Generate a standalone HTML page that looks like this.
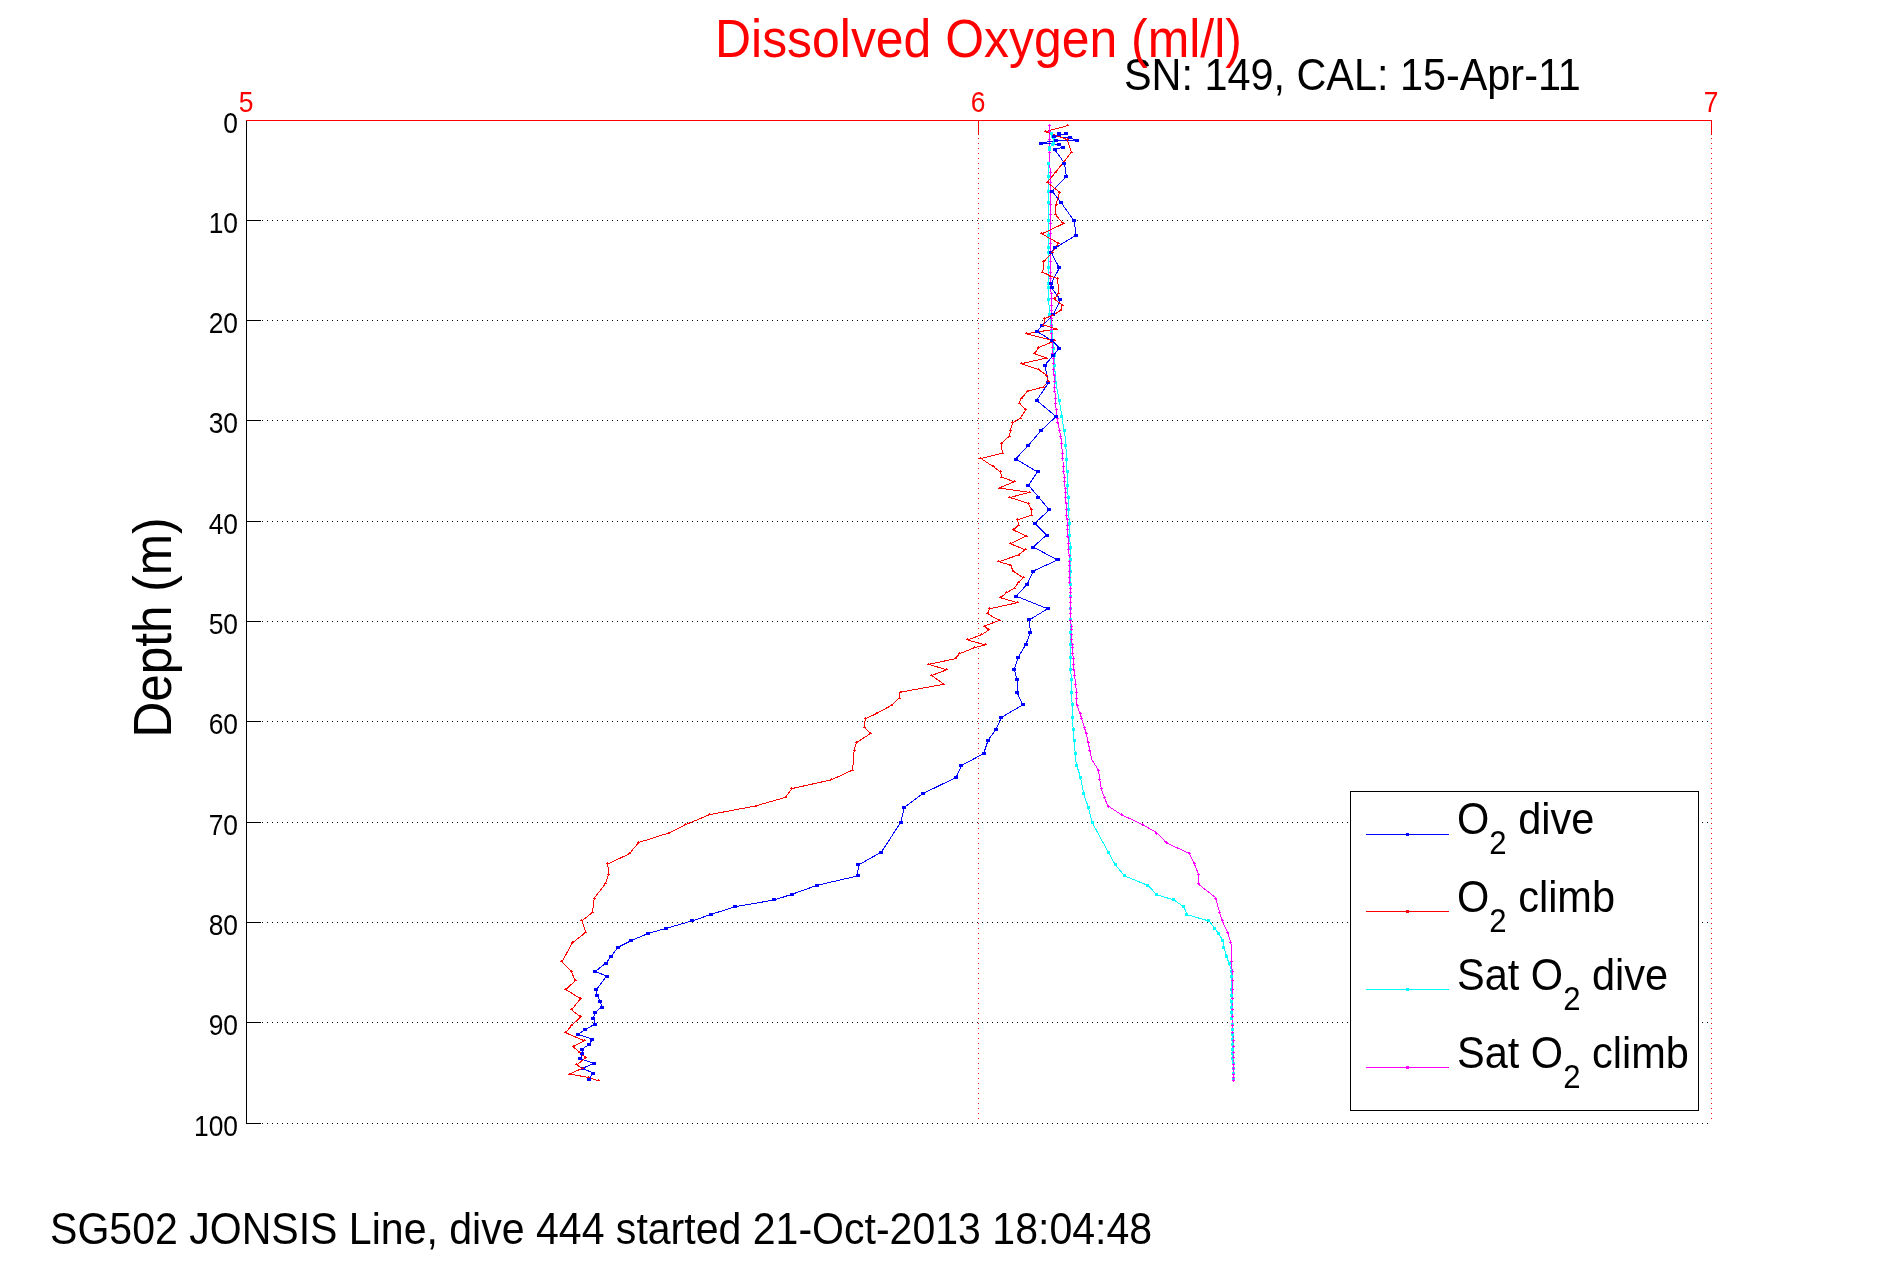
<!DOCTYPE html>
<html><head><meta charset="utf-8"><style>
html,body{margin:0;padding:0;background:#fff;}
body{width:1891px;height:1262px;overflow:hidden;position:relative;}
svg{position:absolute;left:0;top:0;will-change:transform;}
text{font-family:"Liberation Sans",sans-serif;}
</style></head><body>
<svg width="1891" height="1262" viewBox="0 0 1891 1262">
<rect width="1891" height="1262" fill="#fff"/>
<g shape-rendering="crispEdges">
<path d="M262 220.5H1711M262 320.5H1711M262 420.5H1711M262 521.5H1711M262 621.5H1711M262 721.5H1711M262 822.5H1711M262 922.5H1711M262 1022.5H1711M262 1123.5H1711" stroke="#000" stroke-width="1" stroke-dasharray="1 4" fill="none"/>
<path d="M978.5 138V1123M1711.5 138V1123" stroke="#f00" stroke-width="1" stroke-dasharray="1 4" fill="none"/>
<path d="M246 120.5H261M246 220.5H261M246 320.5H261M246 420.5H261M246 521.5H261M246 621.5H261M246 721.5H261M246 822.5H261M246 922.5H261M246 1022.5H261M246 1123.5H261" stroke="#000" stroke-width="1" fill="none"/>
<path d="M246.5 120V1124" stroke="#000" stroke-width="1" fill="none"/>
<path d="M246 120.5H1712M978.5 120V135M1711.5 120V135" stroke="#f00" stroke-width="1" fill="none"/>
</g>
<g font-size="29" fill="#000"><text x="0" y="0" transform="translate(238,133) scale(0.91,1)" text-anchor="end">0</text><text x="0" y="0" transform="translate(238,233) scale(0.91,1)" text-anchor="end">10</text><text x="0" y="0" transform="translate(238,333) scale(0.91,1)" text-anchor="end">20</text><text x="0" y="0" transform="translate(238,433) scale(0.91,1)" text-anchor="end">30</text><text x="0" y="0" transform="translate(238,534) scale(0.91,1)" text-anchor="end">40</text><text x="0" y="0" transform="translate(238,634) scale(0.91,1)" text-anchor="end">50</text><text x="0" y="0" transform="translate(238,734) scale(0.91,1)" text-anchor="end">60</text><text x="0" y="0" transform="translate(238,835) scale(0.91,1)" text-anchor="end">70</text><text x="0" y="0" transform="translate(238,935) scale(0.91,1)" text-anchor="end">80</text><text x="0" y="0" transform="translate(238,1035) scale(0.91,1)" text-anchor="end">90</text><text x="0" y="0" transform="translate(238,1136) scale(0.91,1)" text-anchor="end">100</text></g>
<g font-size="29" fill="#f00">
<text transform="translate(246,112) scale(0.91,1)" text-anchor="middle">5</text>
<text transform="translate(978,112) scale(0.91,1)" text-anchor="middle">6</text>
<text transform="translate(1711,112) scale(0.91,1)" text-anchor="middle">7</text>
</g>
<g fill="none" stroke-width="1" shape-rendering="crispEdges">
<polyline points="1051.0,133.0 1053.0,138.0 1055.0,142.0 1050.0,147.0 1048.5,170.0 1048.5,300.0 1050.5,320.0 1053.7,348.5 1055.6,381.8 1059.4,400.8 1065.6,440.0 1067.5,482.8 1070.8,560.0 1070.4,660.0 1071.7,690.0 1072.5,719.6 1073.9,738.9 1076.2,764.0 1080.6,777.4 1083.6,793.6 1088.2,807.0 1092.0,822.2 1108.5,852.6 1115.5,865.3 1125.0,876.1 1148.5,885.6 1156.1,894.4 1174.4,900.2 1184.0,907.1 1187.1,914.7 1209.3,921.1 1214.4,928.0 1218.8,933.7 1222.6,940.1 1223.9,947.1 1226.3,955.5 1231.6,970.9 1231.0,999.4 1232.2,1023.2 1233.4,1081.5" stroke="#0ff"/>
<polyline points="1049.6,124.0 1050.4,210.0 1051.3,330.0 1052.7,348.5 1054.6,386.6 1056.5,415.1 1061.3,440.0 1065.1,487.6 1069.4,560.0 1070.9,621.0 1071.5,635.5 1074.0,670.0 1076.2,690.0 1076.9,704.8 1080.6,715.2 1086.5,734.4 1091.7,759.6 1098.4,770.0 1101.3,789.2 1105.4,800.0 1107.9,805.7 1121.2,814.6 1142.8,824.7 1156.1,832.3 1166.8,843.1 1189.0,853.2 1194.7,864.7 1198.5,874.2 1198.5,884.3 1215.6,897.6 1219.5,912.2 1222.6,921.7 1227.7,932.5 1231.0,943.6 1231.6,962.6 1232.2,972.1 1232.2,1023.2 1233.4,1038.7 1233.4,1081.5" stroke="#f0f"/>
<polyline points="1059.2,134.0 1065.6,134.0 1054.5,136.4 1070.3,138.0 1077.0,140.4 1056.0,140.4 1041.0,143.1 1059.2,144.7 1062.8,147.1 1054.9,149.9 1064.4,163.0 1066.4,176.8 1052.1,191.1 1060.8,202.2 1074.2,220.9 1076.1,235.2 1055.1,248.0 1050.9,252.3 1059.4,268.0 1051.3,283.2 1051.8,288.0 1060.4,299.9 1053.2,314.6 1042.3,325.7 1037.0,331.4 1052.3,340.9 1059.4,348.1 1053.2,355.7 1044.7,365.2 1048.5,382.8 1036.6,400.4 1056.1,416.5 1041.3,430.3 1028.5,445.2 1015.6,459.0 1037.5,471.9 1028.5,485.2 1038.5,497.1 1049.4,509.9 1034.7,523.2 1046.6,535.1 1033.2,547.0 1057.5,560.0 1033.2,571.1 1027.1,584.4 1016.0,596.1 1047.6,608.8 1029.3,619.9 1030.4,632.1 1026.0,644.3 1018.2,657.1 1014.3,669.3 1017.1,679.8 1017.1,692.6 1022.9,704.8 1001.4,717.4 996.2,729.2 988.1,740.3 983.6,753.7 961.4,765.5 956.2,777.4 922.9,793.6 904.5,807.1 900.6,822.5 881.4,852.1 858.5,864.9 857.5,876.0 817.2,885.3 791.8,894.3 774.2,900.0 735.1,906.7 711.3,914.3 692.3,920.9 665.6,928.5 648.5,933.3 631.4,940.5 618.1,947.2 611.4,956.1 605.7,963.4 595.2,971.4 606.6,976.1 596.2,990.0 597.3,995.9 600.4,1001.1 601.6,1007.0 595.3,1012.2 593.3,1018.1 595.3,1024.1 585.4,1029.2 578.3,1034.4 592.5,1039.1 589.4,1044.3 582.2,1049.0 582.2,1053.8 580.2,1058.9 593.7,1063.3 582.6,1068.4 593.3,1073.2 588.6,1079.5" stroke="#00f"/>
<polyline points="1067.6,125.7 1045.4,131.6 1067.2,139.6 1071.5,152.2 1055.7,172.1 1047.2,182.4 1059.6,192.3 1056.1,204.5 1055.3,214.4 1063.2,223.8 1041.8,233.8 1058.5,243.3 1052.3,252.3 1043.7,261.8 1042.8,272.3 1050.9,276.1 1057.5,278.5 1058.9,293.2 1054.2,298.9 1062.3,305.1 1060.8,310.3 1052.3,315.6 1044.7,318.4 1043.7,325.1 1056.1,329.0 1026.1,333.8 1054.6,340.9 1038.5,347.6 1034.7,353.8 1046.6,358.0 1021.4,363.7 1038.5,369.5 1046.6,375.2 1048.5,381.8 1043.2,387.0 1027.5,391.3 1021.4,398.5 1019.0,403.2 1025.6,409.9 1020.4,418.0 1012.8,422.7 1010.4,430.3 1009.5,436.0 1001.4,443.3 1002.3,453.3 980.9,458.5 993.3,466.6 1000.4,471.9 1001.9,477.1 1014.2,481.8 999.0,488.0 1029.4,492.3 1009.9,497.5 1028.0,503.2 1031.3,509.4 1031.8,515.1 1017.6,519.9 1018.5,525.1 1013.3,529.9 1026.1,536.1 1010.4,543.7 1025.2,549.8 1018.0,555.1 998.8,561.7 1010.4,565.0 1013.2,571.1 1023.2,577.8 1018.8,582.2 1014.3,588.3 1006.6,592.7 1000.4,597.7 1017.6,602.7 989.4,608.8 987.7,613.8 999.3,620.5 984.4,626.0 988.8,629.9 981.6,634.9 967.2,639.9 985.5,644.9 974.4,647.7 959.4,653.8 955.0,658.8 928.9,664.3 946.6,669.9 931.7,675.4 943.9,684.3 900.0,692.2 899.2,698.1 891.1,705.5 876.3,713.7 865.2,718.9 864.4,727.0 870.4,733.7 856.3,742.6 854.1,750.7 852.6,770.0 831.5,779.8 791.8,788.6 785.5,797.3 755.3,806.0 709.3,814.7 685.5,824.7 668.8,833.0 638.7,842.5 629.2,853.9 607.8,863.9 608.6,874.2 605.4,883.8 594.3,898.1 592.4,912.4 581.9,920.9 585.7,932.4 572.4,942.8 561.9,961.9 571.4,971.4 575.2,980.9 565.7,989.5 580.6,998.7 571.5,1009.8 580.6,1016.9 571.5,1025.6 565.6,1032.8 584.2,1040.7 573.1,1046.6 579.9,1052.6 585.8,1057.7 576.7,1064.9 582.2,1068.4 569.6,1074.0 588.6,1077.5 598.5,1080.7" stroke="#f00"/>
</g>
<path d="M1050 132h3v3h-3zM1050 132h3v3h-3zM1051 135h3v3h-3zM1052 136h3v3h-3zM1053 139h3v3h-3zM1053 139h3v3h-3zM1052 142h3v3h-3zM1051 143h3v3h-3zM1048 146h3v3h-3zM1048 148h3v3h-3zM1047 162h3v3h-3zM1047 175h3v3h-3zM1047 190h3v3h-3zM1047 201h3v3h-3zM1047 219h3v3h-3zM1047 234h3v3h-3zM1047 246h3v3h-3zM1047 251h3v3h-3zM1047 266h3v3h-3zM1047 282h3v3h-3zM1047 286h3v3h-3zM1047 298h3v3h-3zM1048 313h3v3h-3zM1050 324h3v3h-3zM1050 330h3v3h-3zM1051 339h3v3h-3zM1052 347h3v3h-3zM1053 354h3v3h-3zM1053 364h3v3h-3zM1054 381h3v3h-3zM1058 399h3v3h-3zM1060 415h3v3h-3zM1063 429h3v3h-3zM1064 444h3v3h-3zM1065 458h3v3h-3zM1066 470h3v3h-3zM1066 484h3v3h-3zM1067 496h3v3h-3zM1067 508h3v3h-3zM1068 522h3v3h-3zM1068 534h3v3h-3zM1069 546h3v3h-3zM1069 558h3v3h-3zM1069 570h3v3h-3zM1069 583h3v3h-3zM1069 595h3v3h-3zM1069 607h3v3h-3zM1069 618h3v3h-3zM1069 631h3v3h-3zM1069 643h3v3h-3zM1069 656h3v3h-3zM1069 668h3v3h-3zM1070 678h3v3h-3zM1070 691h3v3h-3zM1071 703h3v3h-3zM1071 716h3v3h-3zM1072 728h3v3h-3zM1073 739h3v3h-3zM1074 752h3v3h-3zM1075 764h3v3h-3zM1079 776h3v3h-3zM1082 792h3v3h-3zM1087 806h3v3h-3zM1091 821h3v3h-3zM1107 851h3v3h-3zM1114 863h3v3h-3zM1123 874h3v3h-3zM1146 884h3v3h-3zM1155 893h3v3h-3zM1172 898h3v3h-3zM1182 905h3v3h-3zM1185 913h3v3h-3zM1207 919h3v3h-3zM1213 927h3v3h-3zM1217 932h3v3h-3zM1221 939h3v3h-3zM1222 946h3v3h-3zM1225 955h3v3h-3zM1228 962h3v3h-3zM1230 970h3v3h-3zM1230 975h3v3h-3zM1230 988h3v3h-3zM1230 994h3v3h-3zM1230 1000h3v3h-3zM1230 1006h3v3h-3zM1230 1011h3v3h-3zM1230 1017h3v3h-3zM1231 1023h3v3h-3zM1231 1028h3v3h-3zM1231 1033h3v3h-3zM1231 1038h3v3h-3zM1231 1043h3v3h-3zM1231 1048h3v3h-3zM1231 1052h3v3h-3zM1231 1057h3v3h-3zM1232 1062h3v3h-3zM1232 1067h3v3h-3zM1232 1072h3v3h-3zM1232 1078h3v3h-3z" fill="#0ff" shape-rendering="crispEdges"/>
<path d="M1048 125.5h3M1049.5 124v3M1048 131.5h3M1049.5 130v3M1048 139.5h3M1049.5 138v3M1048 152.5h3M1049.5 151v3M1049 172.5h3M1050.5 171v3M1049 182.5h3M1050.5 181v3M1049 192.5h3M1050.5 191v3M1049 204.5h3M1050.5 203v3M1049 214.5h3M1050.5 213v3M1049 223.5h3M1050.5 222v3M1049 233.5h3M1050.5 232v3M1049 243.5h3M1050.5 242v3M1049 252.5h3M1050.5 251v3M1049 261.5h3M1050.5 260v3M1049 272.5h3M1050.5 271v3M1049 276.5h3M1050.5 275v3M1049 278.5h3M1050.5 277v3M1050 293.5h3M1051.5 292v3M1050 298.5h3M1051.5 297v3M1050 305.5h3M1051.5 304v3M1050 310.5h3M1051.5 309v3M1050 315.5h3M1051.5 314v3M1050 318.5h3M1051.5 317v3M1050 325.5h3M1051.5 324v3M1050 329.5h3M1051.5 328v3M1050 333.5h3M1051.5 332v3M1051 340.5h3M1052.5 339v3M1051 347.5h3M1052.5 346v3M1051 353.5h3M1052.5 352v3M1052 358.5h3M1053.5 357v3M1052 363.5h3M1053.5 362v3M1052 369.5h3M1053.5 368v3M1053 375.5h3M1054.5 374v3M1053 381.5h3M1054.5 380v3M1053 387.5h3M1054.5 386v3M1053 391.5h3M1054.5 390v3M1054 398.5h3M1055.5 397v3M1054 403.5h3M1055.5 402v3M1055 409.5h3M1056.5 408v3M1056 418.5h3M1057.5 417v3M1056 422.5h3M1057.5 421v3M1058 430.5h3M1059.5 429v3M1059 436.5h3M1060.5 435v3M1060 443.5h3M1061.5 442v3M1061 453.5h3M1062.5 452v3M1061 458.5h3M1062.5 457v3M1062 466.5h3M1063.5 465v3M1062 471.5h3M1063.5 470v3M1063 477.5h3M1064.5 476v3M1063 481.5h3M1064.5 480v3M1064 488.5h3M1065.5 487v3M1064 492.5h3M1065.5 491v3M1064 497.5h3M1065.5 496v3M1065 503.5h3M1066.5 502v3M1065 509.5h3M1066.5 508v3M1065 515.5h3M1066.5 514v3M1066 519.5h3M1067.5 518v3M1066 525.5h3M1067.5 524v3M1066 529.5h3M1067.5 528v3M1066 536.5h3M1067.5 535v3M1067 543.5h3M1068.5 542v3M1067 549.5h3M1068.5 548v3M1068 555.5h3M1069.5 554v3M1068 561.5h3M1069.5 560v3M1068 565.5h3M1069.5 564v3M1068 571.5h3M1069.5 570v3M1068 577.5h3M1069.5 576v3M1068 582.5h3M1069.5 581v3M1069 588.5h3M1070.5 587v3M1069 592.5h3M1070.5 591v3M1069 597.5h3M1070.5 596v3M1069 602.5h3M1070.5 601v3M1069 608.5h3M1070.5 607v3M1069 613.5h3M1070.5 612v3M1069 620.5h3M1070.5 619v3M1070 626.5h3M1071.5 625v3M1070 629.5h3M1071.5 628v3M1070 634.5h3M1071.5 633v3M1070 639.5h3M1071.5 638v3M1071 644.5h3M1072.5 643v3M1071 647.5h3M1072.5 646v3M1071 653.5h3M1072.5 652v3M1072 658.5h3M1073.5 657v3M1072 664.5h3M1073.5 663v3M1072 669.5h3M1073.5 668v3M1073 675.5h3M1074.5 674v3M1074 684.5h3M1075.5 683v3M1075 692.5h3M1076.5 691v3M1075 698.5h3M1076.5 697v3M1076 705.5h3M1077.5 704v3M1079 713.5h3M1080.5 712v3M1080 718.5h3M1081.5 717v3M1083 727.5h3M1084.5 726v3M1085 733.5h3M1086.5 732v3M1087 742.5h3M1088.5 741v3M1088 750.5h3M1089.5 749v3M1097 770.5h3M1098.5 769v3M1098 779.5h3M1099.5 778v3M1100 788.5h3M1101.5 787v3M1103 797.5h3M1104.5 796v3M1107 806.5h3M1108.5 805v3M1120 814.5h3M1121.5 813v3M1141 824.5h3M1142.5 823v3M1155 833.5h3M1156.5 832v3M1165 842.5h3M1166.5 841v3M1188 853.5h3M1189.5 852v3M1193 863.5h3M1194.5 862v3M1197 874.5h3M1198.5 873v3M1197 883.5h3M1198.5 882v3M1214 898.5h3M1215.5 897v3M1218 912.5h3M1219.5 911v3M1221 920.5h3M1222.5 919v3M1226 932.5h3M1227.5 931v3M1229 942.5h3M1230.5 941v3M1230 961.5h3M1231.5 960v3M1231 971.5h3M1232.5 970v3M1231 980.5h3M1232.5 979v3M1231 989.5h3M1232.5 988v3M1231 998.5h3M1232.5 997v3M1231 1009.5h3M1232.5 1008v3M1231 1016.5h3M1232.5 1015v3M1231 1025.5h3M1232.5 1024v3M1231 1032.5h3M1232.5 1031v3M1232 1040.5h3M1233.5 1039v3M1232 1046.5h3M1233.5 1045v3M1232 1052.5h3M1233.5 1051v3M1232 1057.5h3M1233.5 1056v3M1232 1064.5h3M1233.5 1063v3M1232 1068.5h3M1233.5 1067v3M1232 1074.5h3M1233.5 1073v3M1232 1077.5h3M1233.5 1076v3M1232 1080.5h3M1233.5 1079v3" stroke="#f0f" stroke-width="1" fill="none" shape-rendering="crispEdges"/>
<path d="M1057 132h4v3h-4zM1064 132h4v3h-4zM1052 135h4v3h-4zM1068 136h4v3h-4zM1075 139h4v3h-4zM1054 139h4v3h-4zM1039 142h4v3h-4zM1057 143h4v3h-4zM1061 146h4v3h-4zM1053 148h4v3h-4zM1062 162h4v3h-4zM1064 175h4v3h-4zM1050 190h4v3h-4zM1059 201h4v3h-4zM1072 219h4v3h-4zM1074 234h4v3h-4zM1053 246h4v3h-4zM1049 251h4v3h-4zM1057 266h4v3h-4zM1049 282h4v3h-4zM1050 286h4v3h-4zM1058 298h4v3h-4zM1051 313h4v3h-4zM1040 324h4v3h-4zM1035 330h4v3h-4zM1050 339h4v3h-4zM1057 347h4v3h-4zM1051 354h4v3h-4zM1043 364h4v3h-4zM1046 381h4v3h-4zM1035 399h4v3h-4zM1054 415h4v3h-4zM1039 429h4v3h-4zM1026 444h4v3h-4zM1014 458h4v3h-4zM1036 470h4v3h-4zM1026 484h4v3h-4zM1036 496h4v3h-4zM1047 508h4v3h-4zM1033 522h4v3h-4zM1045 534h4v3h-4zM1031 546h4v3h-4zM1056 558h4v3h-4zM1031 570h4v3h-4zM1025 583h4v3h-4zM1014 595h4v3h-4zM1046 607h4v3h-4zM1027 618h4v3h-4zM1028 631h4v3h-4zM1024 643h4v3h-4zM1016 656h4v3h-4zM1012 668h4v3h-4zM1015 678h4v3h-4zM1015 691h4v3h-4zM1021 703h4v3h-4zM999 716h4v3h-4zM994 728h4v3h-4zM986 739h4v3h-4zM982 752h4v3h-4zM959 764h4v3h-4zM954 776h4v3h-4zM921 792h4v3h-4zM902 806h4v3h-4zM899 821h4v3h-4zM879 851h4v3h-4zM856 863h4v3h-4zM856 874h4v3h-4zM815 884h4v3h-4zM790 893h4v3h-4zM772 898h4v3h-4zM733 905h4v3h-4zM709 913h4v3h-4zM690 919h4v3h-4zM664 927h4v3h-4zM646 932h4v3h-4zM629 939h4v3h-4zM616 946h4v3h-4zM609 955h4v3h-4zM604 962h4v3h-4zM593 970h4v3h-4zM605 975h4v3h-4zM594 988h4v3h-4zM595 994h4v3h-4zM598 1000h4v3h-4zM600 1006h4v3h-4zM593 1011h4v3h-4zM591 1017h4v3h-4zM593 1023h4v3h-4zM583 1028h4v3h-4zM576 1033h4v3h-4zM590 1038h4v3h-4zM587 1043h4v3h-4zM580 1048h4v3h-4zM580 1052h4v3h-4zM578 1057h4v3h-4zM592 1062h4v3h-4zM581 1067h4v3h-4zM591 1072h4v3h-4zM587 1078h4v3h-4z" fill="#00f" shape-rendering="crispEdges"/>
<path d="M1066 125h3v1h-3zM1067 124h1v1h-1zM1044 131h3v1h-3zM1045 130h1v1h-1zM1066 139h3v1h-3zM1067 138h1v1h-1zM1070 152h3v1h-3zM1071 151h1v1h-1zM1054 172h3v1h-3zM1055 171h1v1h-1zM1046 182h3v1h-3zM1047 181h1v1h-1zM1058 192h3v1h-3zM1059 191h1v1h-1zM1055 204h3v1h-3zM1056 203h1v1h-1zM1054 214h3v1h-3zM1055 213h1v1h-1zM1062 223h3v1h-3zM1063 222h1v1h-1zM1040 233h3v1h-3zM1041 232h1v1h-1zM1057 243h3v1h-3zM1058 242h1v1h-1zM1051 252h3v1h-3zM1052 251h1v1h-1zM1042 261h3v1h-3zM1043 260h1v1h-1zM1041 272h3v1h-3zM1042 271h1v1h-1zM1049 276h3v1h-3zM1050 275h1v1h-1zM1056 278h3v1h-3zM1057 277h1v1h-1zM1057 293h3v1h-3zM1058 292h1v1h-1zM1053 298h3v1h-3zM1054 297h1v1h-1zM1061 305h3v1h-3zM1062 304h1v1h-1zM1059 310h3v1h-3zM1060 309h1v1h-1zM1051 315h3v1h-3zM1052 314h1v1h-1zM1043 318h3v1h-3zM1044 317h1v1h-1zM1042 325h3v1h-3zM1043 324h1v1h-1zM1055 329h3v1h-3zM1056 328h1v1h-1zM1025 333h3v1h-3zM1026 332h1v1h-1zM1053 340h3v1h-3zM1054 339h1v1h-1zM1037 347h3v1h-3zM1038 346h1v1h-1zM1033 353h3v1h-3zM1034 352h1v1h-1zM1045 358h3v1h-3zM1046 357h1v1h-1zM1020 363h3v1h-3zM1021 362h1v1h-1zM1037 369h3v1h-3zM1038 368h1v1h-1zM1045 375h3v1h-3zM1046 374h1v1h-1zM1047 381h3v1h-3zM1048 380h1v1h-1zM1042 387h3v1h-3zM1043 386h1v1h-1zM1026 391h3v1h-3zM1027 390h1v1h-1zM1020 398h3v1h-3zM1021 397h1v1h-1zM1018 403h3v1h-3zM1019 402h1v1h-1zM1024 409h3v1h-3zM1025 408h1v1h-1zM1019 418h3v1h-3zM1020 417h1v1h-1zM1011 422h3v1h-3zM1012 421h1v1h-1zM1009 430h3v1h-3zM1010 429h1v1h-1zM1008 436h3v1h-3zM1009 435h1v1h-1zM1000 443h3v1h-3zM1001 442h1v1h-1zM1001 453h3v1h-3zM1002 452h1v1h-1zM979 458h3v1h-3zM980 457h1v1h-1zM992 466h3v1h-3zM993 465h1v1h-1zM999 471h3v1h-3zM1000 470h1v1h-1zM1000 477h3v1h-3zM1001 476h1v1h-1zM1013 481h3v1h-3zM1014 480h1v1h-1zM998 488h3v1h-3zM999 487h1v1h-1zM1028 492h3v1h-3zM1029 491h1v1h-1zM1008 497h3v1h-3zM1009 496h1v1h-1zM1027 503h3v1h-3zM1028 502h1v1h-1zM1030 509h3v1h-3zM1031 508h1v1h-1zM1030 515h3v1h-3zM1031 514h1v1h-1zM1016 519h3v1h-3zM1017 518h1v1h-1zM1017 525h3v1h-3zM1018 524h1v1h-1zM1012 529h3v1h-3zM1013 528h1v1h-1zM1025 536h3v1h-3zM1026 535h1v1h-1zM1009 543h3v1h-3zM1010 542h1v1h-1zM1024 549h3v1h-3zM1025 548h1v1h-1zM1017 555h3v1h-3zM1018 554h1v1h-1zM997 561h3v1h-3zM998 560h1v1h-1zM1009 565h3v1h-3zM1010 564h1v1h-1zM1012 571h3v1h-3zM1013 570h1v1h-1zM1022 577h3v1h-3zM1023 576h1v1h-1zM1017 582h3v1h-3zM1018 581h1v1h-1zM1013 588h3v1h-3zM1014 587h1v1h-1zM1005 592h3v1h-3zM1006 591h1v1h-1zM999 597h3v1h-3zM1000 596h1v1h-1zM1016 602h3v1h-3zM1017 601h1v1h-1zM988 608h3v1h-3zM989 607h1v1h-1zM986 613h3v1h-3zM987 612h1v1h-1zM998 620h3v1h-3zM999 619h1v1h-1zM983 626h3v1h-3zM984 625h1v1h-1zM987 629h3v1h-3zM988 628h1v1h-1zM980 634h3v1h-3zM981 633h1v1h-1zM966 639h3v1h-3zM967 638h1v1h-1zM984 644h3v1h-3zM985 643h1v1h-1zM973 647h3v1h-3zM974 646h1v1h-1zM958 653h3v1h-3zM959 652h1v1h-1zM954 658h3v1h-3zM955 657h1v1h-1zM927 664h3v1h-3zM928 663h1v1h-1zM945 669h3v1h-3zM946 668h1v1h-1zM930 675h3v1h-3zM931 674h1v1h-1zM942 684h3v1h-3zM943 683h1v1h-1zM899 692h3v1h-3zM900 691h1v1h-1zM898 698h3v1h-3zM899 697h1v1h-1zM890 705h3v1h-3zM891 704h1v1h-1zM875 713h3v1h-3zM876 712h1v1h-1zM864 718h3v1h-3zM865 717h1v1h-1zM863 727h3v1h-3zM864 726h1v1h-1zM869 733h3v1h-3zM870 732h1v1h-1zM855 742h3v1h-3zM856 741h1v1h-1zM853 750h3v1h-3zM854 749h1v1h-1zM851 770h3v1h-3zM852 769h1v1h-1zM830 779h3v1h-3zM831 778h1v1h-1zM790 788h3v1h-3zM791 787h1v1h-1zM784 797h3v1h-3zM785 796h1v1h-1zM754 806h3v1h-3zM755 805h1v1h-1zM708 814h3v1h-3zM709 813h1v1h-1zM684 824h3v1h-3zM685 823h1v1h-1zM667 833h3v1h-3zM668 832h1v1h-1zM637 842h3v1h-3zM638 841h1v1h-1zM628 853h3v1h-3zM629 852h1v1h-1zM606 863h3v1h-3zM607 862h1v1h-1zM607 874h3v1h-3zM608 873h1v1h-1zM604 883h3v1h-3zM605 882h1v1h-1zM593 898h3v1h-3zM594 897h1v1h-1zM591 912h3v1h-3zM592 911h1v1h-1zM580 920h3v1h-3zM581 919h1v1h-1zM584 932h3v1h-3zM585 931h1v1h-1zM571 942h3v1h-3zM572 941h1v1h-1zM560 961h3v1h-3zM561 960h1v1h-1zM570 971h3v1h-3zM571 970h1v1h-1zM574 980h3v1h-3zM575 979h1v1h-1zM564 989h3v1h-3zM565 988h1v1h-1zM579 998h3v1h-3zM580 997h1v1h-1zM570 1009h3v1h-3zM571 1008h1v1h-1zM579 1016h3v1h-3zM580 1015h1v1h-1zM570 1025h3v1h-3zM571 1024h1v1h-1zM564 1032h3v1h-3zM565 1031h1v1h-1zM583 1040h3v1h-3zM584 1039h1v1h-1zM572 1046h3v1h-3zM573 1045h1v1h-1zM578 1052h3v1h-3zM579 1051h1v1h-1zM584 1057h3v1h-3zM585 1056h1v1h-1zM575 1064h3v1h-3zM576 1063h1v1h-1zM581 1068h3v1h-3zM582 1067h1v1h-1zM568 1074h3v1h-3zM569 1073h1v1h-1zM587 1077h3v1h-3zM588 1076h1v1h-1zM597 1080h3v1h-3zM598 1079h1v1h-1z" fill="#f00" shape-rendering="crispEdges"/>
<text transform="translate(1124,90) scale(0.9405,1)" font-size="44" fill="#000">SN: 149, CAL: 15-Apr-11</text>
<text transform="translate(715,57) scale(0.942,1)" font-size="53" fill="#f00">Dissolved Oxygen (ml/l)</text>
<text transform="translate(171,627.5) rotate(-90) scale(0.935,1)" font-size="53" fill="#000" text-anchor="middle">Depth (m)</text>
<text transform="translate(50,1244) scale(0.933,1)" font-size="44" fill="#000">SG502 JONSIS Line, dive 444 started 21-Oct-2013 18:04:48</text>
<g shape-rendering="crispEdges">
<rect x="1350.5" y="791.5" width="348" height="319" fill="#fff" stroke="#000" stroke-width="1"/>
<path d="M1366 834.5H1449" stroke="#00f"/>
<path d="M1366 911.5H1449" stroke="#f00"/>
<path d="M1366 989.5H1449" stroke="#0ff"/>
<path d="M1366 1067.5H1449" stroke="#f0f"/>
<rect x="1406" y="833" width="3" height="3" fill="#00f"/>
<rect x="1406" y="910" width="3" height="3" fill="#f00"/>
<rect x="1406" y="988" width="3" height="3" fill="#0ff"/>
<rect x="1406" y="1066" width="3" height="3" fill="#f0f"/>
</g>
<g font-size="44" fill="#000">
<text transform="translate(1457,834) scale(0.944,1)">O<tspan font-size="33" dy="20">2</tspan><tspan dy="-20"> dive</tspan></text>
<text transform="translate(1457,912) scale(0.944,1)">O<tspan font-size="33" dy="20">2</tspan><tspan dy="-20"> climb</tspan></text>
<text transform="translate(1457,990) scale(0.944,1)">Sat O<tspan font-size="33" dy="20">2</tspan><tspan dy="-20"> dive</tspan></text>
<text transform="translate(1457,1068) scale(0.944,1)">Sat O<tspan font-size="33" dy="20">2</tspan><tspan dy="-20"> climb</tspan></text>
</g>
</svg>
</body></html>
